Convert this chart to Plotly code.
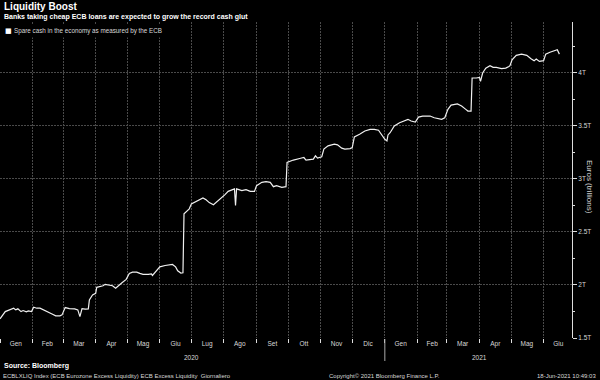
import plotly.graph_objects as go

dates = [
    "2020-01-01","2020-01-06","2020-01-14","2020-01-16","2020-01-18","2020-01-21","2020-01-23","2020-01-26","2020-01-28","2020-01-31",
    "2020-02-02","2020-02-05","2020-02-08","2020-02-11","2020-02-14","2020-02-19","2020-02-23","2020-02-27","2020-02-29",
    "2020-03-03","2020-03-07","2020-03-12","2020-03-15","2020-03-17","2020-03-19","2020-03-22","2020-03-25","2020-03-26","2020-03-29",
    "2020-04-01","2020-04-02","2020-04-05","2020-04-08","2020-04-10","2020-04-14","2020-04-17","2020-04-20","2020-04-22","2020-04-26","2020-04-30",
    "2020-05-03","2020-05-06","2020-05-10","2020-05-13","2020-05-16","2020-05-21","2020-05-24","2020-05-25","2020-05-29",
    "2020-06-01","2020-06-06","2020-06-10","2020-06-13","2020-06-16","2020-06-18","2020-06-21","2020-06-23","2020-06-24","2020-06-26","2020-06-29",
    "2020-07-01","2020-07-06","2020-07-09","2020-07-12","2020-07-15","2020-07-18","2020-07-22","2020-07-25","2020-07-29",
    "2020-08-02","2020-08-05","2020-08-09","2020-08-11","2020-08-12","2020-08-13","2020-08-18","2020-08-22","2020-08-26","2020-08-30",
    "2020-09-01","2020-09-06","2020-09-10","2020-09-14","2020-09-17","2020-09-20","2020-09-25","2020-09-29","2020-09-30",
    "2020-10-06","2020-10-12","2020-10-16","2020-10-18","2020-10-22","2020-10-25","2020-10-27","2020-10-29",
    "2020-11-02","2020-11-04","2020-11-08","2020-11-14","2020-11-17","2020-11-21","2020-11-24","2020-11-29",
    "2020-12-01","2020-12-03","2020-12-08","2020-12-13","2020-12-18","2020-12-22","2020-12-26","2020-12-29",
    "2021-01-01","2021-01-03","2021-01-04","2021-01-06","2021-01-10","2021-01-15","2021-01-20","2021-01-23","2021-01-26","2021-01-30",
    "2021-02-02","2021-02-06","2021-02-13","2021-02-17","2021-02-24","2021-02-27",
    "2021-03-02","2021-03-05","2021-03-11","2021-03-15","2021-03-19","2021-03-21","2021-03-24","2021-03-25","2021-03-29",
    "2021-04-01","2021-04-02","2021-04-04","2021-04-07","2021-04-11","2021-04-14","2021-04-17","2021-04-22","2021-04-26","2021-04-29","2021-04-30",
    "2021-05-02","2021-05-06","2021-05-11","2021-05-16","2021-05-20","2021-05-23","2021-05-25","2021-05-28",
    "2021-06-01","2021-06-03","2021-06-07","2021-06-12","2021-06-14","2021-06-16",
]

excess_liquidity_trn = [
    1.681,1.749,1.781,1.765,1.775,1.749,1.759,1.746,1.756,1.749,
    1.791,1.781,1.781,1.765,1.749,1.728,1.709,1.709,1.718,
    1.787,1.777,1.775,1.765,1.702,1.777,1.772,1.775,1.859,1.906,
    1.922,1.978,1.984,1.993,2.006,2.000,1.993,1.969,1.984,2.021,2.053,
    2.109,2.121,2.121,2.109,2.100,2.100,2.105,2.090,2.134,
    2.171,2.184,2.187,2.194,2.171,2.134,2.112,2.115,2.672,2.687,2.718,
    2.765,2.790,2.803,2.821,2.803,2.777,2.756,2.780,2.821,
    2.852,2.883,2.899,2.906,2.749,2.906,2.890,2.899,2.883,2.883,
    2.937,2.968,2.974,2.968,2.927,2.937,2.921,2.927,3.155,
    3.178,3.193,3.202,3.178,3.180,3.187,3.218,3.196,
    3.209,3.281,3.312,3.328,3.321,3.290,3.281,3.286,
    3.296,3.396,3.421,3.452,3.468,3.468,3.459,3.415,
    3.374,3.358,3.415,3.436,3.499,3.530,3.552,3.562,3.546,3.537,
    3.583,3.593,3.593,3.577,3.562,3.577,
    3.656,3.696,3.708,3.687,3.656,3.640,3.640,3.952,3.952,
    3.958,3.921,3.999,4.045,4.068,4.052,4.052,4.040,4.045,4.061,4.068,
    4.124,4.165,4.177,4.165,4.134,4.115,4.130,4.108,
    4.115,4.177,4.195,4.208,4.218,4.177,
]

month_label_dates = [
    "2020-01-16","2020-02-15","2020-03-16","2020-04-16","2020-05-16","2020-06-16",
    "2020-07-16","2020-08-16","2020-09-16","2020-10-16","2020-11-16","2020-12-16",
    "2021-01-16","2021-02-15","2021-03-16","2021-04-16","2021-05-16","2021-06-15",
]
month_labels = ["Gen","Feb","Mar","Apr","Mag","Giu","Lug","Ago","Set","Ott","Nov","Dic",
                "Gen","Feb","Mar","Apr","Mag","Giu"]
year_labels = ["2020", "2021"]
year_label_dates = ["2020-07-01", "2021-04-01"]

y_tickvals = [1.5, 2.0, 2.5, 3.0, 3.5, 4.0]
y_ticktext = ["1.5T", "2T", "2.5T", "3T", "3.5T", "4T"]

FONT = "Liberation Sans, Arial, sans-serif"
GRID = "#4a4a4a"
GRIDDASH = "2px,1px"
TXT = "#d8d8d8"

fig = go.Figure()
fig.add_trace(go.Scatter(
    x=dates, y=excess_liquidity_trn, mode="lines",
    line=dict(color="#f0f0f0", width=1.2),
    showlegend=False, hoverinfo="skip",
))

fig.update_layout(
    width=600, height=380,
    margin=dict(l=0, r=28, t=22, b=42),
    paper_bgcolor="black", plot_bgcolor="black",
    font=dict(family=FONT, size=7, color=TXT),
    showlegend=False,
    xaxis=dict(
        type="date",
        range=["2020-01-01", "2021-06-28"],
        tickmode="array", tickvals=month_label_dates, ticktext=month_labels,
        ticks="", showgrid=False, zeroline=False, showline=False,
        tickfont=dict(size=6.5, color=TXT),
        minor=dict(dtick="M1", tick0="2020-01-01", ticks="outside", ticklen=4,
                   tickcolor="#dddddd", showgrid=True, gridcolor=GRID,
                   griddash=GRIDDASH, gridwidth=1),
    ),
    yaxis=dict(
        side="right", range=[1.5, 4.48],
        tickmode="array", tickvals=y_tickvals, ticktext=y_ticktext,
        ticks="outside", ticklen=4, tickcolor="#dddddd",
        showline=True, linecolor="#dddddd", linewidth=1,
        showgrid=True, gridcolor=GRID, griddash=GRIDDASH, gridwidth=1,
        zeroline=False, tickfont=dict(size=6.5, color=TXT),
        minor=dict(dtick=0.25, tick0=1.5, ticks="outside", ticklen=2,
                   tickcolor="#dddddd", showgrid=False),
    ),
)

H = 316.0
W = 572.0
def py(pix):
    return (338.0 - pix) / H
def px(pix):
    return pix / W

ann = []
ann.append(dict(text="<b>Liquidity Boost</b>", x=px(2), y=py(7), xref="paper", yref="paper",
                xanchor="left", yanchor="middle", showarrow=False,
                font=dict(size=10, color="white", family=FONT)))
ann.append(dict(text="<b>Banks taking cheap ECB loans are expected to grow the record cash glut</b>",
                x=px(2), y=py(17), xref="paper", yref="paper",
                xanchor="left", yanchor="middle", showarrow=False,
                font=dict(size=7, color="white", family=FONT)))
ann.append(dict(text="Spare cash in the economy as measured by the ECB   ",
                x=px(11), y=py(31), xref="paper", yref="paper",
                xanchor="left", yanchor="middle", showarrow=False, bgcolor="black",
                borderpad=2,
                font=dict(size=6.3, color=TXT, family=FONT)))
ann.append(dict(text="■", x=px(8), y=py(31), xref="paper", yref="paper",
                xanchor="center", yanchor="middle", showarrow=False,
                font=dict(size=7, color="white", family="DejaVu Sans")))
for t, d in zip(year_labels, year_label_dates):
    ann.append(dict(text=t, x=d, y=py(358), xref="x", yref="paper",
                    xanchor="center", yanchor="middle", showarrow=False,
                    font=dict(size=6.5, color=TXT, family=FONT)))
ann.append(dict(text="Euros (trillions)", x=px(590), y=py(187), xref="paper", yref="paper",
                xanchor="center", yanchor="middle", showarrow=False, textangle=90,
                font=dict(size=8, color=TXT, family=FONT)))
ann.append(dict(text="<b>Source: Bloomberg</b>", x=px(2), y=py(366), xref="paper", yref="paper",
                xanchor="left", yanchor="middle", showarrow=False,
                font=dict(size=7, color="white", family=FONT)))
ann.append(dict(text="ECBLXLIQ Index (ECB Eurozone Excess Liquidity) ECB Excess Liquidity  Giornaliero",
                x=px(1), y=py(375.5), xref="paper", yref="paper",
                xanchor="left", yanchor="middle", showarrow=False,
                font=dict(size=6, color=TXT, family=FONT)))
ann.append(dict(text="Copyright© 2021 Bloomberg Finance L.P.",
                x=px(327), y=py(375.5), xref="paper", yref="paper",
                xanchor="left", yanchor="middle", showarrow=False,
                font=dict(size=6, color=TXT, family=FONT)))
ann.append(dict(text="18-Jun-2021 10:49:03",
                x=px(598), y=py(375.5), xref="paper", yref="paper",
                xanchor="right", yanchor="middle", showarrow=False,
                font=dict(size=6, color=TXT, family=FONT)))
fig.update_layout(annotations=ann)

fig.add_shape(type="line", xref="x", yref="paper", x0="2021-01-01", x1="2021-01-01",
              y0=py(339), y1=py(361), line=dict(color="#aaaaaa", width=1))

fig.write_html("out.html", config={"displayModeBar": False},
               post_script="document.body.style.margin='0';document.body.style.background='black';")
